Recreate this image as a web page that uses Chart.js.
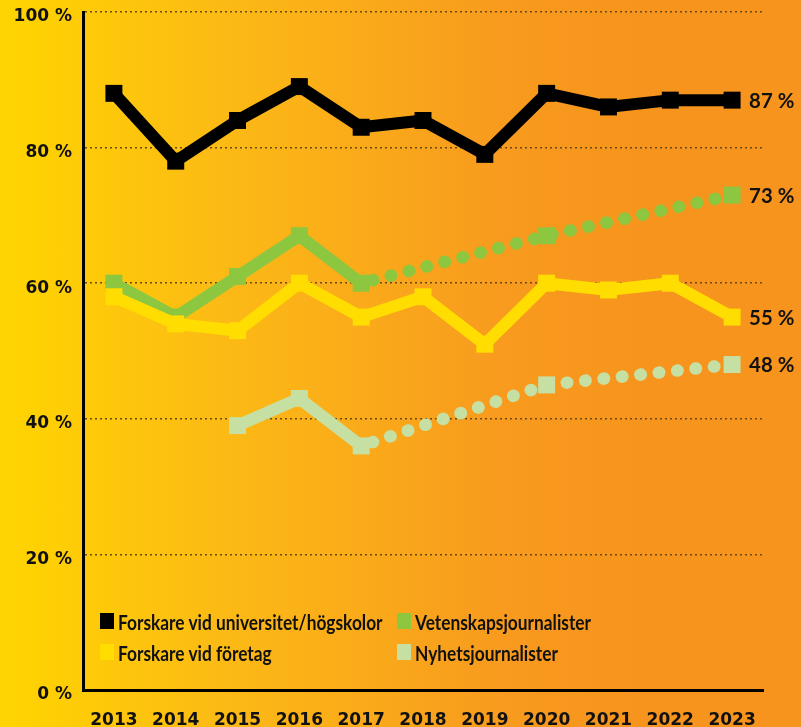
<!DOCTYPE html>
<html>
<head>
<meta charset="utf-8">
<script src="https://cdn.jsdelivr.net/npm/chart.js@4.4.1/dist/chart.umd.min.js"></script>
<style>
  html, body { margin: 0; padding: 0; }
  #wrap {
    position: relative; width: 801px; height: 727px; overflow: hidden;
    background: linear-gradient(to right, #FFD500 0%, #FCBA15 28%, #F89B1E 62%, #F7941D 80%, #F7941D 100%);
  }
  #legend { position: absolute; left: 100px; top: 606px; color: #111; }
  .item { position: absolute; white-space: nowrap; display: flex; align-items: center; height: 30px; }
  .box { width: 14px; height: 16px; margin-right: 4px; flex: none; }
  .txt { display: inline-block; transform-origin: left center; font: bold 21px Lato, sans-serif; }
</style>
</head>
<body>
<div id="wrap">
  <canvas id="chart" width="801" height="727"></canvas>
  <div id="legend"></div>
</div>
<script>
// data
const years = ['2013', '2014', '2015', '2016', '2017', '2018', '2019', '2020', '2021', '2022', '2023'];
const universitet = [88, 78, 84, 89, 83, 84, 79, 88, 86, 87, 87];
const foretag = [58, 54, 53, 60, 55, 58, 51, 60, 59, 60, 55];
const vetenskap = [60, 55, 61, 67, 60, null, null, 67, null, null, 73];
const nyhets = [null, null, 39, 43, 36, null, null, 45, null, null, 48];
const yTicks = [0, 20, 40, 60, 80, 100];

const seriesNames = ['Forskare vid universitet/högskolor', 'Forskare vid företag', 'Vetenskapsjournalister', 'Nyhetsjournalister'];
const seriesColors = ['#000000', '#FFDD00', '#8DC63F', '#C6E0A4'];
const seriesData = [universitet, foretag, vetenskap, nyhets];

// the original uses a condensed face, so squeeze Lato to the same width
const labelFont = 'bold 21px Lato, sans-serif';
const m = document.createElement('canvas').getContext('2d');
m.font = labelFont;
const squeeze = 265 / m.measureText(seriesNames[0]).width;

// after 2017 the journalist lines turn dotted
function makeDataset(i) {
  const dotted = ctx => i >= 2 && ctx.p0DataIndex >= 4;
  return {
    label: seriesNames[i],
    data: seriesData[i],
    borderColor: seriesColors[i],
    backgroundColor: seriesColors[i],
    borderWidth: 12,
    tension: 0,
    spanGaps: true,
    pointStyle: 'rect',
    pointRadius: 12,
    pointBorderWidth: 0,
    segment: {
      borderDash: ctx => dotted(ctx) ? [0.5, 18] : undefined,
      borderDashOffset: ctx => dotted(ctx) ? -12 : 0,
      borderCapStyle: ctx => dotted(ctx) ? 'round' : 'butt',
      borderWidth: ctx => dotted(ctx) ? 12.5 : 12
    }
  };
}

const endLabels = {
  id: 'endLabels',
  afterDatasetsDraw(chart) {
    const c = chart.ctx;
    chart.data.datasets.forEach((ds, i) => {
      const meta = chart.getDatasetMeta(i);
      const last = meta.data[meta.data.length - 1];
      c.save();
      c.font = labelFont;
      c.fillStyle = '#111';
      c.textBaseline = 'middle';
      c.translate(last.x + 17, last.y + 1);
      c.scale(0.97, 1);
      c.fillText(ds.data[ds.data.length - 1] + ' %', 0, 0);
      c.restore();
    });
  }
};

// legend in two columns inside the plot
const legendPos = [[0, 0], [0, 31], [297, 0], [297, 31]];
const legend = document.getElementById('legend');
seriesNames.forEach((name, i) => {
  const el = document.createElement('div');
  el.className = 'item';
  el.style.left = legendPos[i][0] + 'px';
  el.style.top = legendPos[i][1] + 'px';
  el.innerHTML = '<span class="box" style="background:' + seriesColors[i] + '"></span>' +
    '<span class="txt" style="transform:scaleX(' + squeeze + ')">' + name + '</span>';
  legend.appendChild(el);
});

const tickFont = { family: '"DejaVu Sans"', weight: 'bold', size: 17 };

new Chart(document.getElementById('chart'), {
  type: 'line',
  data: {
    labels: years,
    datasets: [0, 1, 2, 3].map(makeDataset)
  },
  options: {
    responsive: false,
    animation: false,
    layout: { padding: { top: 11, right: 38, left: 0, bottom: 0 } },
    plugins: { legend: { display: false }, tooltip: { enabled: false } },
    scales: {
      x: {
        offset: true,
        grid: { display: false, drawTicks: false },
        border: { display: true, color: '#000', width: 3 },
        ticks: { color: '#111', font: tickFont, padding: 20, maxRotation: 0 },
        afterFit: s => { s.height = 37; s.paddingLeft = 0; s.paddingRight = 0; }
      },
      y: {
        min: 0, max: 100,
        z: 1,
        afterBuildTicks: s => { s.ticks = yTicks.map(v => ({ value: v })); },
        grid: {
          drawTicks: false,
          color: ctx => ctx.tick && ctx.tick.value === 0 ? 'rgba(0,0,0,0)' : '#6b4a14',
          lineWidth: 1.5
        },
        border: { display: true, color: '#000', width: 3, dash: [2, 3] },
        ticks: {
          color: '#111', font: tickFont, padding: 11, labelOffset: 5,
          callback: v => v + ' %'
        },
        afterFit: s => { s.width = 83; s.paddingTop = 0; s.paddingBottom = 0; }
      }
    }
  },
  plugins: [endLabels]
});
</script>
</body>
</html>
